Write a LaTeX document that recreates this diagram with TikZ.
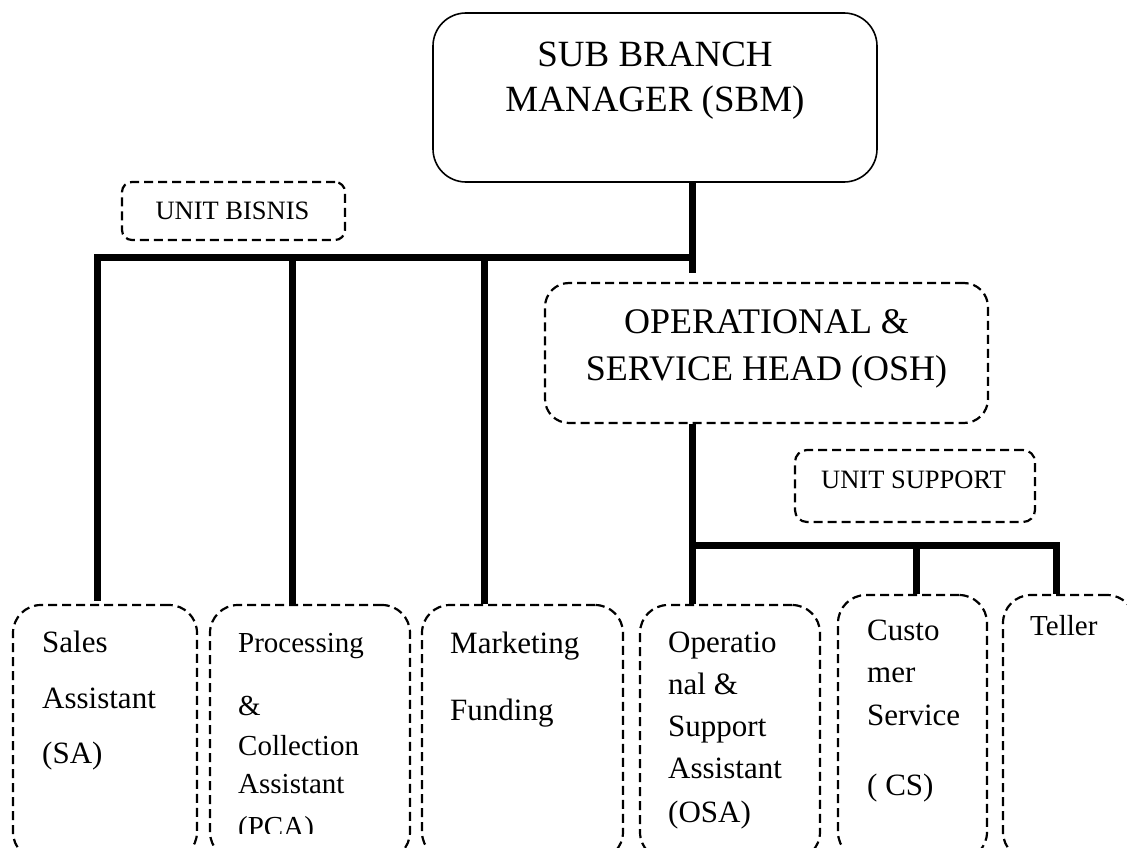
\documentclass[tikz,border=0pt]{standalone}
\usepackage{fontspec}
\setmainfont{Liberation Serif}
\begin{document}
\begin{tikzpicture}[x=1pt,y=-1pt,
  solidbox/.style={draw,line width=1.6pt,rounded corners=33pt,inner sep=0pt},
  dashbox/.style={draw,line width=2.2pt,dash pattern=on 9pt off 5pt,inner sep=0pt},
  conn/.style={line width=7pt,line join=miter},
  bigtxt/.style={inner sep=0pt,anchor=base,font=\fontsize{37}{44}\selectfont},
  midtxt/.style={inner sep=0pt,anchor=base,font=\fontsize{36}{44}\selectfont},
  unittxt/.style={inner sep=0pt,anchor=base,font=\fontsize{26.5}{30}\selectfont},
  celltxt/.style={inner sep=0pt,anchor=base west,font=\fontsize{31}{36}\selectfont},
  smalltxt/.style={inner sep=0pt,anchor=base west,font=\fontsize{29}{34}\selectfont}]
\useasboundingbox (0,0) rectangle (1127,848);
% boxes
\node[solidbox,minimum width=444pt,minimum height=169pt] (sbm) at (655,97.5) {};
\node[dashbox,rounded corners=10pt,minimum width=223pt,minimum height=58pt] (bisnis) at (233.5,211) {};
\node[dashbox,rounded corners=24pt,minimum width=443pt,minimum height=140pt] (osh) at (766.5,353) {};
\node[dashbox,rounded corners=12pt,minimum width=240pt,minimum height=72pt] (support) at (915,486) {};
\node[dashbox,rounded corners=28pt,minimum width=184pt,minimum height=255pt] (sa) at (105,732.5) {};
\node[dashbox,rounded corners=28pt,minimum width=200pt,minimum height=255pt] (pca) at (310,732.5) {};
\node[dashbox,rounded corners=28pt,minimum width=201pt,minimum height=255pt] (mf) at (522.5,732.5) {};
\node[dashbox,rounded corners=28pt,minimum width=180pt,minimum height=255pt] (osa) at (730,732.5) {};
\node[dashbox,rounded corners=28pt,minimum width=149pt,minimum height=265pt] (cs) at (912.5,727.5) {};
\node[dashbox,rounded corners=28pt,minimum width=132pt,minimum height=265pt] (teller) at (1069,727.5) {};
% texts
\node[bigtxt] (sbm1) at (655,67) {SUB BRANCH};
\node[bigtxt] (sbm2) at (655,112) {MANAGER (SBM)};
\node[midtxt] (osh1) at (766.5,333) {OPERATIONAL \&};
\node[midtxt] (osh2) at (766.5,380) {SERVICE HEAD (OSH)};
\node[unittxt] (bisnist) at (232.5,219) {UNIT BISNIS};
\node[unittxt] (supportt) at (913.5,488) {UNIT SUPPORT};
\node[celltxt] (sa1) at (42,652) {Sales};
\node[celltxt] (sa2) at (42,708) {Assistant};
\node[celltxt] (sa3) at (42,763) {(SA)};
\node[smalltxt] (pca1) at (238,652) {Processing};
\node[smalltxt] (pca2) at (238,715) {\&};
\node[smalltxt] (pca3) at (238,755) {Collection};
\node[smalltxt] (pca4) at (238,793) {Assistant};
\begin{scope}
\clip (210,600) rectangle (410,833);
\node[smalltxt] (pca5) at (238,836) {(PCA)};
\end{scope}
\node[celltxt] (mf1) at (450,653) {Marketing};
\node[celltxt] (mf2) at (450,720) {Funding};
\node[celltxt] (osa1) at (668,652) {Operatio};
\node[celltxt] (osa2) at (668,694) {nal \&};
\node[celltxt] (osa3) at (668,736) {Support};
\node[celltxt] (osa4) at (668,778) {Assistant};
\node[celltxt] (osa5) at (668,822) {(OSA)};
\node[celltxt] (cs1) at (867,640) {Custo};
\node[celltxt] (cs2) at (867,682) {mer};
\node[celltxt] (cs3) at (867,725) {Service};
\node[celltxt] (cs4) at (867,795) {( CS)};
\node[smalltxt] (teller1) at (1030,635) {Teller};
% connector coordinates
\coordinate (jl) at (97,257.5);
\coordinate (jr) at (692,257.5);
\coordinate (js) at (692,273);
\coordinate (jp) at (292.5,257.5);
\coordinate (jm) at (484,257.5);
\coordinate (ko) at (692,545);
\coordinate (kc) at (916,545);
\coordinate (kt) at (1056,545);
% connectors
\draw[conn] (sbm.south -| jr) -- (js);
\draw[conn] (sa.north -| jl) ++(0,-3) -- (jl) -- (jr);
\draw[conn] (jp) -- (pca.north -| jp);
\draw[conn] (jm) -- (mf.north -| jm);
\draw[conn] (osh.south -| ko) -- (osa.north -| ko);
\draw[conn] (ko) -- (kt) -- (teller.north -| kt);
\draw[conn] (kc) -- (cs.north -| kc);
\end{tikzpicture}
\end{document}
